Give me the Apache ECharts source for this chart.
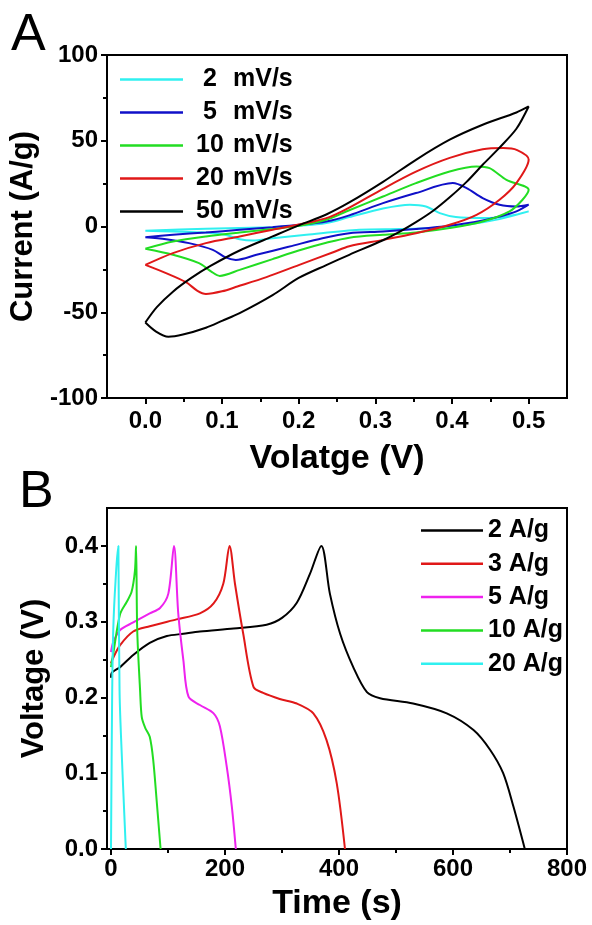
<!DOCTYPE html>
<html>
<head>
<meta charset="utf-8">
<script src="https://cdn.jsdelivr.net/npm/echarts@6.0.0/dist/echarts.min.js"></script>
<style>
  html, body { margin: 0; padding: 0; background: #fff; }
  #main { width: 592px; height: 925px; }
</style>
</head>
<body>
<div id="main"></div>
<script>
// ---- panel A: CV loops, [voltage, current] ----
var cvNames = ['2 mV/s', '5 mV/s', '10 mV/s', '20 mV/s', '50 mV/s'];
var cvColors = ['#30f0f0', '#1010c8', '#22dd22', '#e01818', '#000000'];

var cv2 = [[0,-2.5],[0.079,-1.3],[0.166,-0.4],[0.201,0.4],[0.236,2],[0.266,5.5],[0.31,10.5],[0.345,12.7],[0.366,11.7],[0.384,7.8],[0.405,5.5],[0.44,4.9],[0.475,6.2],[0.5,8.8],
  [0.462,4.3],[0.419,1],[0.375,-0.9],[0.332,-1.5],[0.279,-1.9],[0.21,-4.8],[0.166,-6.8],[0.14,-8.2],[0.123,-7.4],[0.104,-4.8],[0.079,-3.5],[0.036,-2.9],[0,-2.5]];
var cv5 = [[0,-6.2],[0.036,-4.8],[0.079,-3.5],[0.123,-1.9],[0.166,-0.4],[0.201,1],[0.236,2.9],[0.266,6.5],[0.31,13.6],[0.353,19.5],[0.401,25.3],[0.419,22.4],[0.44,16.6],[0.462,12.7],[0.484,11.7],[0.5,12.7],
  [0.484,8.8],[0.462,5.8],[0.44,3.5],[0.397,0.4],[0.353,-1.5],[0.31,-2.9],[0.266,-3.9],[0.231,-6.8],[0.188,-11.7],[0.145,-16.5],[0.118,-19.5],[0.104,-17.9],[0.088,-13.6],[0.057,-9.7],[0.027,-7.4],[0,-6.2]];
var cv10 = [[0,-13],[0.036,-8.8],[0.079,-5.8],[0.123,-3.5],[0.166,-1.5],[0.201,0.4],[0.236,3.9],[0.266,9.5],[0.31,17.5],[0.353,25.3],[0.397,32.1],[0.432,35],[0.449,34],[0.471,27.2],[0.5,21.4],
  [0.492,15.6],[0.475,8.8],[0.44,2.9],[0.397,-0.9],[0.353,-3.5],[0.31,-4.8],[0.266,-6.5],[0.236,-9.5],[0.2,-14],[0.166,-19],[0.123,-25.3],[0.097,-28.8],[0.086,-26.3],[0.07,-21.4],[0.036,-16.5],[0,-13]];
var cv20 = [[0,-22.4],[0.036,-15.5],[0.079,-9.7],[0.123,-5.8],[0.166,-1.9],[0.21,2],[0.24,5.5],[0.266,11],[0.31,22],[0.353,32],[0.397,40],[0.44,45],[0.467,45.7],[0.485,44.5],[0.5,39],
  [0.484,25.3],[0.462,15.6],[0.432,6.8],[0.397,1],[0.353,-3.9],[0.31,-7.8],[0.266,-11.5],[0.245,-15],[0.2,-22.5],[0.158,-29.5],[0.12,-35],[0.1,-37.8],[0.079,-39.3],[0.068,-37.5],[0.053,-32.5],[0.027,-27.2],[0,-22.4]];
var cv50 = [[0,-56],[0.015,-47],[0.036,-38],[0.06,-30],[0.085,-23],[0.123,-14],[0.166,-5.8],[0.201,0.8],[0.236,7],[0.266,14],[0.31,26],[0.353,38.9],[0.397,50.6],[0.44,59.3],[0.484,66.5],[0.5,70],
  [0.484,57],[0.462,46],[0.44,36],[0.419,26],[0.397,17],[0.375,9],[0.353,2.5],[0.332,-3],[0.31,-8],[0.266,-16.5],[0.236,-22.5],[0.2,-30],[0.166,-40],[0.123,-50.5],[0.1,-55],[0.079,-59],[0.049,-63],[0.03,-64.3],[0.014,-61.3],[0,-56]];
var cvData = [cv2, cv5, cv10, cv20, cv50];

var cvXTicks = [0, 0.1, 0.2, 0.3, 0.4, 0.5];
var cvXMinor = [0.05, 0.15, 0.25, 0.35, 0.45];
var cvYTicks = [-100, -50, 0, 50, 100];
var cvYMinor = [-75, -25, 25, 75];

// ---- panel B: charge/discharge, [time, voltage] ----
var gcdNames = ['2 A/g', '3 A/g', '5 A/g', '10 A/g', '20 A/g'];
var gcdColors = ['#000000', '#e01818', '#ee22ee', '#22dd22', '#30f0f0'];

var gcd2 = [[0,0.226],[1,0.232],[16,0.24],[39,0.256],[68,0.272],[98,0.281],[127,0.284],[156,0.287],[215,0.291],[273,0.296],[300,0.305],[326,0.325],[349,0.363],[369,0.4],
  [384,0.337],[402,0.284],[425,0.24],[449,0.207],[472,0.199],[530,0.192],[589,0.179],[636,0.157],[665,0.131],[688,0.1],[706,0.056],[726,0]];
var gcd3 = [[0,0.245],[3,0.251],[16,0.269],[39,0.287],[68,0.294],[115,0.303],[156,0.311],[180,0.324],[197,0.35],[208,0.4],
  [217.5,0.35],[232,0.284],[250,0.214],[267,0.206],[296,0.198],[326,0.192],[355,0.179],[378,0.144],[396,0.087],[410.5,0]];
var gcd5 = [[0,0.26],[4,0.273],[16,0.289],[39,0.299],[68,0.311],[86,0.318],[100.6,0.337],[110.5,0.4],
  [118,0.311],[127,0.249],[136,0.201],[156,0.19],[180,0.179],[191,0.162],[203,0.109],[212,0.056],[219,0]];
var gcd10 = [[0,0.24],[4,0.258],[16,0.31],[27.5,0.326],[36,0.339],[42,0.367],[44,0.4],
  [46,0.289],[51,0.21],[54,0.174],[60,0.16],[68,0.148],[74,0.118],[80,0.065],[87,0]];
var gcd20 = [[0,0],[2,0.2],[4,0.29],[8,0.354],[13,0.4],[14,0.4],[15,0.21],[17.5,0.15],[26,0]];
var gcdData = [gcd2, gcd3, gcd5, gcd10, gcd20];

var gcdXTicks = [0, 200, 400, 600, 800];
var gcdXMinor = [100, 300, 500, 700];
var gcdYTicks = [0, 0.1, 0.2, 0.3, 0.4];
var gcdYMinor = [0.05, 0.15, 0.25, 0.35];

var FONT = 'Arial, "Liberation Sans", Helvetica, sans-serif';

function mainAxis(grid, min, max, ticks, fmt, name, nameGap, isY, margin) {
  return {
    type: 'value', gridIndex: grid, min: min, max: max,
    position: isY ? 'left' : 'bottom',
    name: name, nameLocation: 'middle', nameGap: nameGap,
    nameTextStyle: { fontFamily: FONT, fontWeight: 'bold', fontSize: isY ? 31 : 34, color: '#000' },
    axisLine: { show: true, onZero: false, lineStyle: { color: '#000', width: 2 } },
    axisTick: { show: true, inside: false, length: 6, customValues: ticks, lineStyle: { color: '#000', width: 2 } },
    axisLabel: { show: true, customValues: ticks, margin: margin, formatter: fmt,
      fontFamily: FONT, fontWeight: 'bold', fontSize: 24, color: '#000' },
    splitLine: { show: false }
  };
}
function minorAxis(grid, min, max, ticks, isY) {
  return {
    type: 'value', gridIndex: grid, min: min, max: max,
    position: isY ? 'left' : 'bottom', offset: 0,
    axisLine: { show: false, onZero: false },
    axisTick: { show: true, inside: false, length: 4, customValues: ticks, lineStyle: { color: '#000', width: 2 } },
    axisLabel: { show: false },
    splitLine: { show: false }
  };
}

var series = [];
cvData.forEach(function (d, i) {
  series.push({ name: cvNames[i], type: 'line', xAxisIndex: 0, yAxisIndex: 0, data: d,
    symbol: 'none', smooth: 0.3, lineStyle: { color: cvColors[i], width: 2 }, itemStyle: { color: cvColors[i] } });
});
gcdData.forEach(function (d, i) {
  series.push({ name: gcdNames[i], type: 'line', xAxisIndex: 2, yAxisIndex: 2, data: d,
    symbol: 'none', smooth: 0.3, lineStyle: { color: gcdColors[i], width: 2 }, itemStyle: { color: gcdColors[i] } });
});

var chart = echarts.init(document.getElementById('main'));
chart.setOption({
  backgroundColor: '#fff',
  animation: false,
  title: [
    { text: 'A', left: 6, top: 5, textStyle: { fontFamily: FONT, fontWeight: 'normal', fontSize: 52, color: '#000' } },
    { text: 'B', left: 14, top: 462, textStyle: { fontFamily: FONT, fontWeight: 'normal', fontSize: 52, color: '#000' } }
  ],
  grid: [
    { left: 107, top: 55, width: 460, height: 343, show: true, borderColor: '#000', borderWidth: 2 },
    { left: 107, top: 508, width: 460, height: 341, show: true, borderColor: '#000', borderWidth: 2 }
  ],
  xAxis: [
    mainAxis(0, -0.05, 0.55, cvXTicks, function (v) { return v.toFixed(1); }, 'Volatge (V)', 44, false, 11),
    minorAxis(0, -0.05, 0.55, cvXMinor, false),
    mainAxis(1, -7, 800, gcdXTicks, function (v) { return String(v); }, 'Time (s)', 38, false, 8),
    minorAxis(1, -7, 800, gcdXMinor, false)
  ],
  yAxis: [
    mainAxis(0, -100, 100, cvYTicks, function (v) { return String(v); }, 'Current (A/g)', 57, true, 9),
    minorAxis(0, -100, 100, cvYMinor, true),
    mainAxis(1, 0, 0.45, gcdYTicks, function (v) { return v.toFixed(1); }, 'Voltage (V)', 57, true, 9),
    minorAxis(1, 0, 0.45, gcdYMinor, true)
  ],
  legend: [
    {
      data: cvNames, orient: 'vertical', left: 115, top: 58, icon: 'rect', itemWidth: 63, itemHeight: 2.5, itemGap: 0,
      formatter: function (n) { var p = n.split(' '); return '{n|' + p[0] + '}{u|' + p[1] + '}'; },
      textStyle: { fontFamily: FONT, fontWeight: 'bold', fontSize: 25, color: '#000', lineHeight: 33,
        rich: {
          n: { width: 44, align: 'center', fontFamily: FONT, fontWeight: 'bold', fontSize: 25, color: '#000', lineHeight: 33 },
          u: { padding: [0, 0, 0, 1], fontFamily: FONT, fontWeight: 'bold', fontSize: 25, color: '#000', lineHeight: 33 }
        } }
    },
    {
      data: gcdNames, orient: 'vertical', left: 416, top: 509, icon: 'rect', itemWidth: 62, itemHeight: 2.5, itemGap: 0.3,
      textStyle: { fontFamily: FONT, fontWeight: 'bold', fontSize: 25, color: '#000', lineHeight: 33 }
    }
  ],
  series: series
});
</script>
</body>
</html>
